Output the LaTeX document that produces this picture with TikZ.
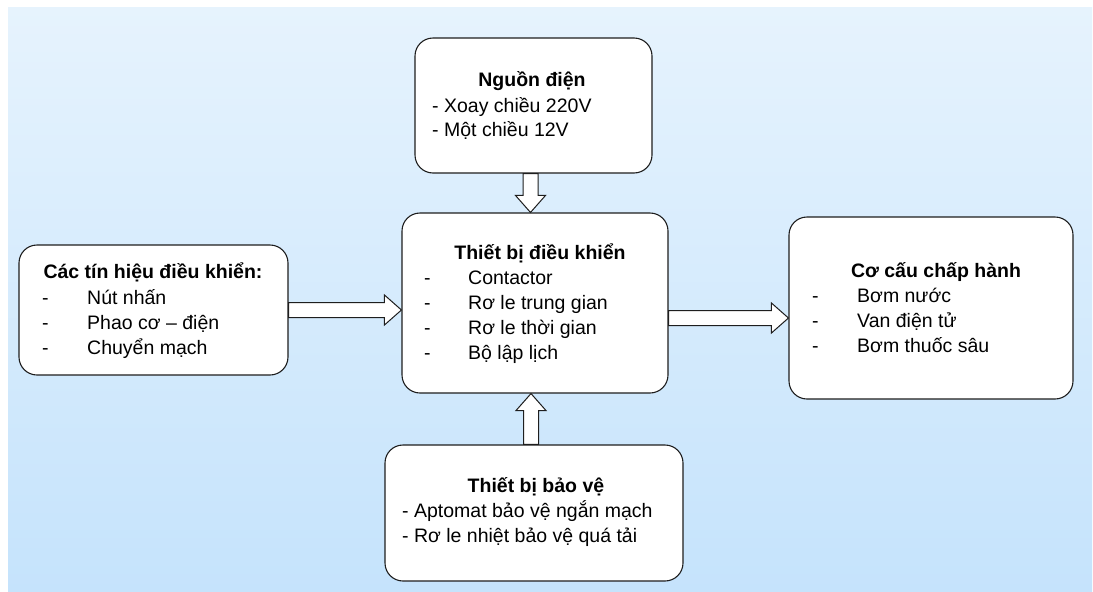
\documentclass[tikz,border=0pt]{standalone}
\usepackage{fontspec}
\setmainfont{Liberation Sans}
\usetikzlibrary{calc}
\definecolor{bgtop}{HTML}{E6F3FD}
\definecolor{bgmid}{HTML}{BCDEFB}
\definecolor{bgbot}{HTML}{C5E3FC}
\definecolor{boxline}{HTML}{1E1E1E}
\newcommand{\blkshaft}{7.5pt}
\newcommand{\blkhead}{15pt}
\newcommand{\blklen}{17pt}
\tikzset{
  block/.style={draw=boxline, line width=1.1pt, fill=white, rounded corners=18pt, inner sep=0pt},
  txt/.style={inner sep=0pt, font=\fontsize{19.5}{23}\selectfont},
  ttl/.style={inner sep=0pt, font=\fontsize{19.5}{23}\selectfont\bfseries},
  blockarrow/.style={draw=boxline, line width=1pt, fill=white, line join=miter, to path={
    ($(\tikztostart)!\blkshaft!90:(\tikztotarget)$)
    -- ($($(\tikztotarget)!\blklen!(\tikztostart)$)!\blkshaft!-90:(\tikztostart)$)
    -- ($($(\tikztotarget)!\blklen!(\tikztostart)$)!\blkhead!-90:(\tikztostart)$)
    -- (\tikztotarget)
    -- ($($(\tikztotarget)!\blklen!(\tikztostart)$)!\blkhead!90:(\tikztostart)$)
    -- ($($(\tikztotarget)!\blklen!(\tikztostart)$)!\blkshaft!90:(\tikztostart)$)
    -- ($(\tikztostart)!\blkshaft!-90:(\tikztotarget)$)
    -- cycle}}
}
\begin{document}
\begin{tikzpicture}[x=1pt,y=-1pt]
    \useasboundingbox[fill=white] (0,0) rectangle (1093,592);
    \shade[top color=bgtop, middle color=bgmid, bottom color=bgbot] (8,7) rectangle (1092,592);

    % boxes
    \node[block, minimum width=237pt, minimum height=135pt] (pwr) at (533.5,105.5) {};
    \node[block, minimum width=266pt, minimum height=180pt] (ctrl) at (535,303) {};
    \node[block, minimum width=269pt, minimum height=130pt] (sig) at (153.5,310) {};
    \node[block, minimum width=284pt, minimum height=182pt] (act) at (931,308) {};
    \node[block, minimum width=298pt, minimum height=136pt] (prot) at (534,513) {};

    % texts
    \node[ttl, anchor=base] (pwrT) at (532,86) {Nguồn điện};
    \node[txt, anchor=base west] (pwrA) at (432,112) {- Xoay chiều 220V};
    \node[txt, anchor=base west] (pwrB) at (432,136) {- Một chiều 12V};

    \node[ttl, anchor=base] (ctrlT) at (540,259) {Thiết bị điều khiển};
    \foreach \entry [count=\i] in {Contactor, Rơ le trung gian, Rơ le thời gian, Bộ lập lịch} {
        \node[txt, anchor=base west] (ctrlD\i) at (424,259+25*\i) {-};
        \node[txt, anchor=base west] (ctrl\i) at (468,259+25*\i) {\entry};
    }

    \node[ttl, anchor=base] (sigT) at (153,278) {Các tín hiệu điều khiển:};
    \foreach \entry [count=\i] in {Nút nhấn, Phao cơ – điện, Chuyển mạch} {
        \node[txt, anchor=base west] (sigD\i) at (42,279+25*\i) {-};
        \node[txt, anchor=base west] (sig\i) at (87,279+25*\i) {\entry};
    }

    \node[ttl, anchor=base] (actT) at (936,277) {Cơ cấu chấp hành};
    \foreach \entry [count=\i] in {Bơm nước, Van điện tử, Bơm thuốc sâu} {
        \node[txt, anchor=base west] (actD\i) at (812,277+25*\i) {-};
        \node[txt, anchor=base west] (act\i) at (857,277+25*\i) {\entry};
    }

    \node[ttl, anchor=base] (protT) at (536,492) {Thiết bị bảo vệ};
    \node[txt, anchor=base west] (protA) at (402,517) {- Aptomat bảo vệ ngắn mạch};
    \node[txt, anchor=base west] (protB) at (402,542) {- Rơ le nhiệt bảo vệ quá tải};

    % block arrows
    \coordinate (pwrout) at ([xshift=-3pt]pwr.south);
    \coordinate (ctrltop) at (pwrout |- ctrl.north);
    \coordinate (protout) at ([xshift=-3pt]prot.north);
    \coordinate (ctrlbot) at (protout |- ctrl.south);
    \coordinate (ctrlout) at ([yshift=-15pt]ctrl.east);
    \coordinate (actin) at (ctrlout -| act.west);
    \coordinate (ctrlleft) at (sig.east -| ctrl.west);
    \draw[blockarrow] (pwrout) to (ctrltop);
    \draw[blockarrow] (protout) to (ctrlbot);
    \draw[blockarrow] (sig.east) to (ctrlleft);
    \draw[blockarrow] (ctrlout) to (actin);
\end{tikzpicture}
\end{document}
